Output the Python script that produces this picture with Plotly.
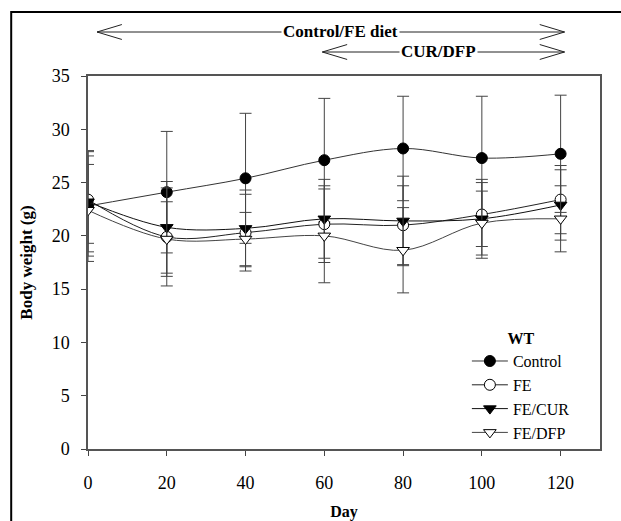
import plotly.graph_objects as go

days = [0, 20, 40, 60, 80, 100, 120]

control = [22.8, 24.1, 25.4, 27.1, 28.2, 27.3, 27.7]
control_sd = [5.2, 5.7, 6.1, 5.8, 4.9, 5.8, 5.5]

fe = [23.4, 19.9, 20.3, 21.1, 21.0, 22.0, 23.4]
fe_sd = [4.1, 4.6, 3.6, 3.6, 3.7, 3.0, 3.2]

fe_cur = [23.2, 20.8, 20.7, 21.6, 21.4, 21.6, 22.9]
fe_cur_sd = [4.7, 4.3, 3.6, 3.7, 4.2, 3.7, 3.3]

fe_dfp = [22.4, 19.7, 19.7, 20.0, 18.65, 21.2, 21.6]
fe_dfp_sd = [4.3, 3.5, 2.5, 4.4, 4.0, 3.0, 3.1]

series_names = ["Control", "FE", "FE/CUR", "FE/DFP"]
x_ticks = [0, 20, 40, 60, 80, 100, 120]
y_ticks = [0, 5, 10, 15, 20, 25, 30, 35]

diet_label = "Control/FE diet"
diet_span = [2.3, 121.0]
diet_text_x = 64
treat_label = "CUR/DFP"
treat_span = [59.5, 121.0]
treat_text_x = 89

FONT = "Times New Roman, Liberation Serif, serif"

markers = [
    dict(symbol="circle", color="black", line=dict(color="black", width=1)),
    dict(symbol="circle", color="white", line=dict(color="black", width=1)),
    dict(symbol="triangle-down", color="black", line=dict(color="black", width=1)),
    dict(symbol="triangle-down", color="white", line=dict(color="black", width=1)),
]
line_colors = ["#333333", "#222222", "#111111", "#444444"]

fig = go.Figure()
for name, ys, sd, mk, lc in zip(series_names, [control, fe, fe_cur, fe_dfp],
                                [control_sd, fe_sd, fe_cur_sd, fe_dfp_sd],
                                markers, line_colors):
    fig.add_trace(go.Scatter(
        x=days, y=ys, name=name, mode="lines+markers",
        line=dict(color=lc, width=1, shape="spline", smoothing=1.0),
        marker=dict(size=11, **mk),
        error_y=dict(type="data", array=sd, visible=True, color="#444444",
                     thickness=1, width=6),
    ))

# outer frame
fig.add_shape(type="rect", xref="paper", yref="paper", x0=-0.150, x1=1.5,
              y0=-0.5, y1=1.1716, line=dict(color="black", width=2), layer="below")

def arrow(span, ypaper):
    x0, x1 = span
    fig.add_shape(type="line", xref="x", yref="paper", x0=x0, x1=x1,
                  y0=ypaper, y1=ypaper, line=dict(color="#222222", width=1))
    dx = 6.3
    dy = 0.02
    for xt, sgn in [(x0, 1), (x1, -1)]:
        for s in (1, -1):
            fig.add_shape(type="line", xref="x", yref="paper", x0=xt, x1=xt + sgn * dx,
                          y0=ypaper, y1=ypaper + s * dy,
                          line=dict(color="#222222", width=1))

y_diet = (449 - 32) / 373
y_treat = (449 - 52) / 373
arrow(diet_span, y_diet)
arrow(treat_span, y_treat)

for txt, xt, yp in [(diet_label, diet_text_x, y_diet), (treat_label, treat_text_x, y_treat)]:
    fig.add_annotation(x=xt, y=yp, xref="x", yref="paper", text="<b>" + txt + "</b>",
                       showarrow=False, bgcolor="white", borderpad=1,
                       xanchor="center", yanchor="middle",
                       font=dict(family=FONT, size=17, color="black"))

fig.update_layout(
    width=621, height=521,
    margin=dict(l=88, r=21, t=76, b=72, autoexpand=False),
    paper_bgcolor="white", plot_bgcolor="white",
    font=dict(family=FONT, size=18, color="black"),
    showlegend=True,
    legend=dict(
        x=0.74, y=0.337, xanchor="left", yanchor="top",
        bgcolor="rgba(0,0,0,0)", borderwidth=0,
        font=dict(family=FONT, size=16, color="black"),
        title=dict(text="<b>WT</b>", side="top center", font=dict(family=FONT, size=16)),
        itemwidth=36, tracegroupgap=0,
    ),
    xaxis=dict(
        range=[0, 130], tickvals=x_ticks, ticks="outside", ticklen=5,
        tickcolor="#444444", showline=True, linecolor="#555555", linewidth=1.5,
        mirror=True, showgrid=False, zeroline=False, automargin=False,
        tickfont=dict(family=FONT, size=18), ticklabelstandoff=12,
        title=dict(text="<b>Day</b>", font=dict(family=FONT, size=16)),
    ),
    yaxis=dict(
        range=[0, 35], tickvals=y_ticks, ticks="outside", ticklen=5,
        tickcolor="#444444", showline=True, linecolor="#555555", linewidth=1.5,
        mirror=True, showgrid=False, zeroline=False, automargin=False,
        tickfont=dict(family=FONT, size=18), ticklabelstandoff=8,
        title=dict(text="<b>Body weight (g)</b>", font=dict(family=FONT, size=17)),
    ),
)

fig.write_html("out.html")
